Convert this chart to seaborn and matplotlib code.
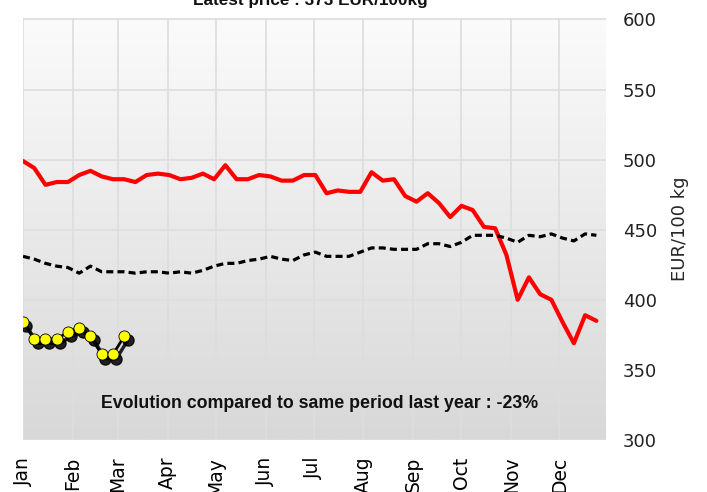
import numpy as np
import pandas as pd
import seaborn as sns
import matplotlib.pyplot as plt
from matplotlib.colors import LinearSegmentedColormap
from matplotlib.transforms import ScaledTranslation

# weekly prices, EUR/100kg
price_season = [499, 494, 482, 484, 484, 489, 492, 488, 486, 486,
                484, 489, 490, 489, 486, 487, 490, 486, 496, 486,
                486, 489, 488, 485, 485, 489, 489, 476, 478, 477,
                477, 491, 485, 486, 474, 470, 476, 469, 459, 467,
                464, 452, 451, 432, 400, 416, 404, 400, 384, 369,
                389, 385]
price_last_year = [431, 429, 426, 424, 423, 419, 424, 420, 420, 420,
                   419, 420, 420, 419, 420, 419, 421, 424, 426, 426,
                   428, 429, 431, 429, 428, 432, 434, 431, 431, 431,
                   434, 437, 437, 436, 436, 436, 440, 440, 438, 441,
                   446, 446, 446, 444, 441, 446, 445, 447, 444, 442,
                   447, 446]
price_current = [384, 372, 372, 372, 377, 380, 374, 361, 361, 374]

month_labels = ['Jan', 'Feb', 'Mar', 'Apr', 'May', 'Jun',
                'Jul', 'Aug', 'Sep', 'Oct', 'Nov', 'Dec']
month_start_day = [0, 31, 59, 90, 120, 151, 181, 212, 243, 273, 304, 334]
y_ticks = [300, 350, 400, 450, 500, 550, 600]

latest_price = 373
evolution = -23

day_season = np.arange(len(price_season)) * 7
day_last = np.arange(len(price_last_year)) * 7
day_current = np.arange(len(price_current)) * 7

sns.set_style("white")
bold_font = ['Liberation Sans', 'DejaVu Sans']

fig = plt.figure(figsize=(7.07, 4.92), dpi=100)
ax = fig.add_axes([23 / 707, 1 - 440 / 492, 583 / 707, 422 / 492])

# background gradient, near white at the top to light grey at the bottom
bg_cmap = LinearSegmentedColormap.from_list('bg', ['#fbfbfb', '#d8d8d8'])
grad = np.linspace(0, 1, 256).reshape(-1, 1)
ax.imshow(grad, extent=[0, 1, 0, 1], transform=ax.transAxes, cmap=bg_cmap,
          aspect='auto', zorder=0)

sns.lineplot(x=day_season, y=price_season, ax=ax, color='#ff0000',
             linewidth=3, zorder=3)
sns.lineplot(x=day_last, y=price_last_year, ax=ax, color='black',
             linewidth=2.3, linestyle=(0, (2.2, 1.3)), zorder=3)

# shadow for the current year series
shadow = ax.transData + ScaledTranslation(2.5 / 72, -3 / 72, fig.dpi_scale_trans)
ax.plot(day_current, price_current, color='black', linewidth=2.5,
        marker='o', markersize=8, markerfacecolor='black', alpha=0.85,
        transform=shadow, zorder=4)
sns.lineplot(x=day_current, y=price_current, ax=ax, color='black',
             linewidth=2, marker='o', markersize=8,
             markerfacecolor='#ffff00', markeredgecolor='black',
             markeredgewidth=0.6, zorder=5)

ax.set_xlim(0, 363)
ax.set_ylim(300, 601)
ax.set_xticks(month_start_day)
ax.set_xticklabels(month_labels, rotation=90, fontsize=13.5, color='black')
ax.set_yticks(y_ticks)
ax.set_yticklabels([str(v) for v in y_ticks], fontsize=13, color='#222222')
ax.yaxis.tick_right()
ax.yaxis.set_label_position('right')
ax.tick_params(axis='y', length=0, pad=12)
ax.tick_params(axis='x', length=0, pad=12)
ax.set_ylabel('EUR/100 kg', fontsize=13, labelpad=10)
ax.set_xlabel('')
ax.grid(True, color='#dddddd', linewidth=1.2, zorder=1)
ax.set_axisbelow(True)
for s in ax.spines.values():
    s.set_visible(False)

ax.text(0.508, 0.075, f'Evolution compared to same period last year : {evolution}%',
        transform=ax.transAxes, ha='center', va='baseline', fontsize=12.8,
        fontweight='bold', color='#111111', family=bold_font, zorder=6)

fig.text(310 / 707, 1 - 5 / 492, f'Latest price : {latest_price} EUR/100kg',
         ha='center', va='baseline', fontsize=12.3, fontweight='bold',
         color='#111111', family=bold_font)

fig.savefig('out.png', dpi=100)
